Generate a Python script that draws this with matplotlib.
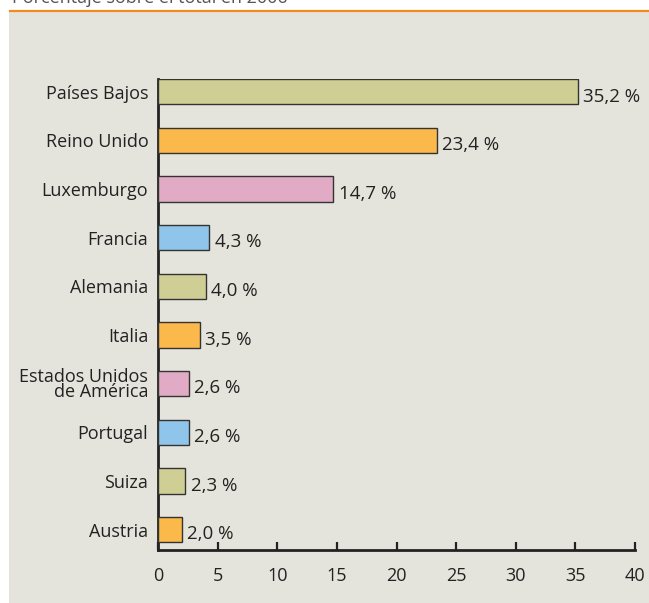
import matplotlib.pyplot as plt
from matplotlib.patches import Rectangle

# datos: porcentaje sobre el total en 2006
paises = ['Países Bajos', 'Reino Unido', 'Luxemburgo', 'Francia', 'Alemania',
          'Italia', 'Estados Unidos\nde América', 'Portugal', 'Suiza', 'Austria']
valores = [35.2, 23.4, 14.7, 4.3, 4.0, 3.5, 2.6, 2.6, 2.3, 2.0]
etiquetas = ['35,2 %', '23,4 %', '14,7 %', '4,3 %', '4,0 %',
             '3,5 %', '2,6 %', '2,6 %', '2,3 %', '2,0 %']
colores = ['#cfcf95', '#fbb84b', '#e1abc5', '#8fc5ea'] * 3
xticks = [0, 5, 10, 15, 20, 25, 30, 35, 40]

plt.rcParams['font.family'] = ['Open Sans', 'DejaVu Sans']

fig = plt.figure(figsize=(6.49, 6.03), dpi=100)
fig.patch.set_facecolor('white')

# panel gris y linea naranja
fig.patches.append(Rectangle((9 / 649, 0), 1, 592 / 603, transform=fig.transFigure,
                             facecolor='#e5e4dc', edgecolor='none', zorder=-5))
fig.add_artist(plt.Line2D([10 / 649, 1], [1 - 10.5 / 603, 1 - 10.5 / 603],
                          color='#f38a1f', lw=1.6))
fig.text(12 / 649, 1 - 3 / 603, 'Porcentaje sobre el total en 2006',
         fontsize=13, color='#555555', va='baseline')

ax = fig.add_axes([158 / 649, 1 - 550 / 603, (635 - 158) / 649, (550 - 79) / 603])
ax.set_facecolor('none')
ax.set_zorder(2)

pos = list(range(len(paises)))
ax.barh(pos, valores, height=0.52, color=colores[:len(valores)],
        edgecolor='#333333', linewidth=1.0, zorder=3)
for p, v, t in zip(pos, valores, etiquetas):
    ax.text(v + 0.45, p + 0.1, t, fontsize=13.5, color='#222222', va='center', ha='left')

ax.set_ylim(9.42, -0.26)
ax.set_xlim(0, 40)
ax.set_yticks(pos)
ax.set_yticklabels(paises, fontsize=13, color='#222222', linespacing=0.8)
ax.set_xticks(xticks)
ax.set_xticklabels([str(x) for x in xticks], fontsize=13, color='#222222')
ax.tick_params(axis='y', length=0, pad=7)
ax.tick_params(axis='x', direction='in', length=6, width=1.6, color='#222222', pad=12)

for s in ['top', 'right']:
    ax.spines[s].set_visible(False)
for s in ['left', 'bottom']:
    ax.spines[s].set_linewidth(2)
    ax.spines[s].set_color('#222222')

fig.savefig('out.png', dpi=100)
